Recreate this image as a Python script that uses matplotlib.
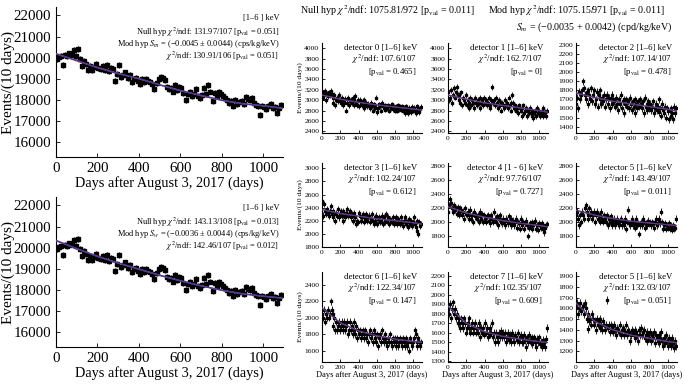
import numpy as np
import matplotlib
matplotlib.use("Agg")
import matplotlib.pyplot as plt

plt.rcParams['font.family'] = ['Liberation Serif', 'DejaVu Serif']
plt.rcParams['mathtext.fontset'] = 'stix'

# bin centres (10 day bins)
days = np.arange(5, 1090, 10)

# summed rate
total = [19950, 20050, 20100, 19650, 20150, 20100, 20200, 20150, 20350, 20100, 20400,
         19950, 19600, 19850, 19700, 19400, 19600, 19400, 19550, 19700, 19500,
         19450, 19600, 19400, 19650, 19350, 19500, 19450, 18900, 19250, 19650,
         19100, 19200, 19300, 19050, 19200, 18850, 19000, 19050, 18900, 18750,
         19000, 18850, 19000, 18900, 18850, 18750, 18500, 18800, 19000, 19100,
         19050, 18950, 18600, 18500, 18550, 18400, 18700, 18450, 18600, 18550,
         18350, 18000, 18300, 18400, 18200, 18300, 18500, 18200, 18100, 18250,
         18550, 18300, 18700, 18400, 17950, 18350, 18200, 18400, 18300, 18200,
         18100, 18000, 17850, 17950, 17700, 18000, 17800, 17900, 17950, 17800,
         18150, 18050, 18000, 18100, 17850, 17750, 17700, 17300, 17700, 17650,
         17550, 17700, 17800, 17600, 17650, 17400, 17600, 17750]

fit_days = [0, 100, 200, 300, 400, 500, 600, 700, 800, 900, 1000, 1090]
top_null = [20200, 19850, 19540, 19260, 19000, 18720, 18450, 18200, 17980, 17830, 17720, 17620]
top_mod = [20170, 19880, 19520, 19240, 19020, 18710, 18430, 18220, 17990, 17810, 17730, 17600]
bot_null = [20350, 19950, 19600, 19270, 18980, 18700, 18430, 18200, 17980, 17820, 17700, 17620]
bot_mod = [20330, 19960, 19580, 19280, 18990, 18690, 18440, 18190, 17990, 17810, 17710, 17610]

det = [
    [3150, 3050, 3100, 3180, 3000, 3120, 3080, 3150, 3100, 3180, 3120,
     3050, 2950, 3100, 2900, 3000, 3050, 2980, 3100, 3000, 2950,
     3050, 2900, 3000, 2950, 3020, 2800, 2950, 3050, 2900, 2980,
     3000, 2950, 3050, 2900, 3000, 3080, 2950, 2900, 3000, 2880,
     3000, 2950, 2900, 2980, 2850, 3000, 2900, 2950, 2880, 2930,
     2900, 2850, 2950, 2880, 2800, 2920, 2850, 2900, 3050, 2780,
     2850, 2920, 2880, 2800, 2950, 2880, 2850, 2900, 2820, 2880,
     2850, 2900, 2800, 2880, 2850, 2920, 2830, 2870, 2800, 2880,
     2850, 2800, 2900, 2830, 2870, 2820, 2880, 2800, 2850, 2760,
     2830, 2880, 2800, 2750, 2850, 2820, 2780, 2870, 2800, 2850,
     2820, 2760, 2880, 2800, 2850, 2780, 2830, 2870],
    [3150, 3000, 3050, 3200, 2950, 3100, 3230, 3050, 3150, 3250, 3100,
     3000, 3100, 2950, 3150, 2900, 3050, 3000, 2950, 3100, 2900,
     3000, 2850, 2950, 3050, 2900, 3000, 2950, 2850, 3050, 2950,
     2900, 3000, 2950, 3050, 2850, 2950, 3000, 2900, 3050, 2950,
     3000, 2900, 2950, 3050, 2900, 2850, 3000, 3250, 2950, 3000,
     2900, 3050, 2950, 2850, 3000, 2900, 2950, 2800, 2950, 2900,
     2850, 3000, 2900, 2950, 2850, 3050, 2900, 2800, 2950, 3100,
     2950, 2850, 2900, 2800, 2850, 2750, 2900, 2850, 2800, 2700,
     2850, 2900, 2750, 2800, 2850, 2700, 2800, 2750, 2850, 2750,
     2700, 2800, 2650, 2750, 2800, 2700, 2850, 2750, 2800, 2700,
     2750, 2800, 2700, 2850, 2750, 2780, 2700, 2800],
    [1650, 1720, 1600, 1780, 1700, 1750, 1800, 1900, 1820, 1750, 1700,
     1780, 1650, 1800, 1750, 1700, 1820, 1680, 1750, 1800, 1650,
     1700, 1780, 1620, 1750, 1700, 1800, 1650, 1720, 1680, 1750,
     1620, 1700, 1750, 1650, 1720, 1600, 1700, 1750, 1650, 1700,
     1680, 1620, 1720, 1650, 1580, 1700, 1650, 1750, 1600, 1680,
     1700, 1550, 1650, 1700, 1620, 1680, 1600, 1720, 1650, 1580,
     1680, 1620, 1550, 1700, 1650, 1600, 1680, 1620, 1700, 1650,
     1600, 1680, 1550, 1720, 1620, 1650, 1580, 1680, 1600, 1650,
     1580, 1620, 1680, 1550, 1600, 1650, 1580, 1620, 1700, 1560,
     1600, 1520, 1650, 1580, 1550, 1620, 1500, 1600, 1570, 1480,
     1580, 1520, 1600, 1550, 1480, 1620, 1550, 1600],
    [2500, 2280, 2450, 2350, 2300, 2380, 2320, 2280, 2350, 2420, 2300,
     2250, 2350, 2300, 2200, 2320, 2280, 2380, 2250, 2300, 2350,
     2280, 2200, 2350, 2300, 2250, 2320, 2380, 2280, 2300, 2350,
     2250, 2300, 2200, 2280, 2320, 2250, 2150, 2200, 2180, 2320,
     2280, 2200, 2250, 2300, 2180, 2250, 2220, 2300, 2200, 2250,
     2280, 2180, 2220, 2300, 2200, 2150, 2250, 2200, 2280, 2150,
     2220, 2250, 2180, 2200, 2280, 2150, 2250, 2200, 2180, 2300,
     2200, 2250, 2150, 2220, 2200, 2180, 2250, 2150, 2200, 2250,
     2180, 2150, 2220, 2200, 2150, 2250, 2180, 2120, 2200, 2250,
     2150, 2200, 2180, 2100, 2220, 2150, 2200, 2120, 2180, 2250,
     2150, 2100, 2200, 2050, 2000, 2180, 2120, 2150],
    [2150, 2250, 2330, 2280, 2200, 2150, 2250, 2180, 2200, 2120, 2220,
     2150, 2100, 2200, 2180, 2100, 2150, 2050, 2200, 2120, 2100,
     2150, 2050, 2100, 2180, 2050, 2100, 2000, 2150, 2080, 2100,
     2050, 2100, 2000, 2150, 2080, 2050, 2120, 2000, 2100, 2050,
     2000, 2080, 2100, 2020, 2050, 1980, 2100, 2050, 2000, 2150,
     2050, 2000, 2080, 1950, 2050, 2100, 2000, 2030, 1980, 2050,
     2000, 1950, 2050, 2020, 1980, 2080, 2000, 1950, 2050, 1980,
     2020, 1950, 2000, 2050, 1920, 2000, 1980, 1900, 2050, 1980,
     1950, 2000, 1900, 1980, 2020, 1950, 1800, 1920, 1980, 1950,
     2000, 1900, 1950, 1980, 2020, 1900, 1950, 1880, 1980, 1950,
     1920, 1980, 1900, 1950, 1850, 1920, 1960, 1970],
    [2100, 2150, 2050, 1950, 2100, 2000, 2150, 2100, 2050, 2200, 2250,
     2150, 2050, 2100, 2200, 2100, 2150, 2050, 2100, 2150, 2000,
     2100, 2150, 2050, 2100, 2000, 2080, 2150, 2050, 2000, 2100,
     2050, 2000, 2100, 1950, 2050, 2000, 2080, 1950, 2050, 2000,
     2050, 1950, 2000, 2050, 1980, 1950, 2020, 2050, 1950, 2000,
     1950, 2000, 2050, 1900, 2000, 2180, 1980, 1950, 2000, 2050,
     1950, 1980, 2000, 1920, 2050, 1950, 1980, 1830, 1950, 2000,
     1950, 2050, 2000, 1920, 1980, 2000, 1950, 2020, 1980, 2000,
     1950, 2000, 1980, 1920, 2000, 2050, 1950, 1980, 2020, 2050,
     1980, 2150, 2000, 1900, 1950, 1980, 1900, 1950, 1920, 1980,
     1900, 1950, 1920, 1880, 1950, 1900, 1920, 2050],
    [2050, 2000, 2100, 1950, 2050, 2000, 2100, 2000, 2050, 2200, 2100,
     2050, 1900, 2000, 1850, 1950, 1850, 1900, 1950, 1850, 1900,
     1950, 1850, 1900, 1950, 1850, 1900, 1950, 1800, 1850, 1950,
     1850, 1900, 1800, 1950, 1850, 1800, 1900, 1750, 1850, 1800,
     1850, 1750, 1800, 1850, 1750, 1800, 1850, 1750, 1800, 1700,
     1800, 1850, 1750, 1800, 1700, 1850, 1750, 1800, 1700, 1800,
     1650, 1750, 1800, 1700, 1850, 1750, 1700, 1800, 1750, 1700,
     1650, 1750, 1700, 1800, 1700, 1650, 1750, 1700, 1750, 1650,
     1700, 1750, 1650, 1700, 1750, 1700, 1650, 1750, 1700, 1650,
     1700, 1750, 1650, 1700, 1600, 1750, 1700, 1650, 1700, 1750,
     1850, 1800, 1700, 1650, 1750, 1700, 1650, 1700],
    [1850, 1800, 1900, 1750, 1850, 1920, 1800, 1850, 1750, 1800, 1700,
     1750, 1700, 1650, 1750, 1700, 1650, 1750, 1700, 1600, 1650,
     1700, 1650, 1750, 1600, 1650, 1700, 1600, 1650, 1700, 1600,
     1650, 1600, 1700, 1650, 1550, 1650, 1600, 1650, 1580, 1700,
     1600, 1650, 1550, 1600, 1650, 1580, 1600, 1700, 1550, 1600,
     1500, 1600, 1550, 1500, 1600, 1550, 1620, 1580, 1550, 1600,
     1550, 1600, 1500, 1550, 1600, 1520, 1580, 1550, 1500, 1600,
     1550, 1500, 1580, 1550, 1520, 1600, 1500, 1550, 1580, 1500,
     1550, 1500, 1580, 1520, 1450, 1550, 1500, 1580, 1520, 1500,
     1550, 1480, 1520, 1550, 1500, 1450, 1530, 1500, 1550, 1480,
     1500, 1450, 1520, 1480, 1500, 1450, 1530, 1650],
    [1600, 1650, 1550, 1600, 1650, 1580, 1600, 1620, 1550, 1650, 1600,
     1500, 1410, 1550, 1480, 1500, 1450, 1550, 1500, 1450, 1480,
     1400, 1500, 1450, 1480, 1420, 1500, 1450, 1400, 1480, 1450,
     1400, 1450, 1680, 1420, 1450, 1380, 1450, 1400, 1430, 1380,
     1450, 1400, 1350, 1420, 1400, 1380, 1450, 1350, 1400, 1420,
     1350, 1400, 1380, 1450, 1350, 1400, 1380, 1300, 1350, 1400,
     1380, 1350, 1400, 1320, 1380, 1350, 1300, 1400, 1350, 1420,
     1350, 1380, 1400, 1320, 1350, 1380, 1300, 1350, 1320, 1380,
     1300, 1350, 1320, 1380, 1280, 1350, 1320, 1300, 1280, 1350,
     1320, 1380, 1300, 1250, 1320, 1280, 1350, 1300, 1250, 1320,
     1280, 1300, 1250, 1320, 1280, 1230, 1300, 1250],
]
det_err = [55, 55, 40, 47, 45, 45, 43, 40, 37]
det_fit = [
    [3100, 3020, 2960, 2910, 2870, 2830, 2810],
    [3100, 3020, 2950, 2900, 2850, 2800, 2770],
    [1770, 1720, 1680, 1650, 1620, 1590, 1570],
    [2370, 2310, 2270, 2230, 2200, 2170, 2150],
    [2220, 2130, 2070, 2020, 1980, 1950, 1930],
    [2170, 2100, 2050, 2010, 1985, 1960, 1950],
    [2120, 1940, 1840, 1780, 1740, 1710, 1700],
    [1880, 1700, 1610, 1560, 1530, 1505, 1495],
    [1650, 1480, 1400, 1350, 1320, 1290, 1280],
]
det_fit_days = [0, 200, 400, 600, 800, 1000, 1090]
det_names = ["detector 0 [1\u20136] keV", "detector 1 [1\u20136] keV", "detector 2 [1\u20136] keV",
             "detector 3 [1\u20136] keV", "detector 4 [1 - 6] keV", "detector 5 [1\u20136] keV",
             "detector 6 [1\u20136] keV", "detector 7 [1\u20136] keV", "detector 5 [1\u20136] keV"]
det_chi = ["107.6/107", "162.7/107", "107.14/107", "102.24/107", "97.76/107",
           "143.49/107", "122.34/107", "102.35/107", "132.03/107"]
det_p = ["0.465", "0", "0.478", "0.612", "0.727", "0.011", "0.147", "0.609", "0.051"]
det_ylim = [(2370, 4100), (2370, 4100), (1330, 2320), (1800, 3080), (1640, 2850),
            (1640, 2850), (1460, 2560), (1290, 2240), (1100, 1940)]
det_yticks = [np.arange(2400, 4001, 200), np.arange(2400, 4001, 200), np.arange(1400, 2301, 100),
              np.arange(1800, 3001, 200), np.arange(1800, 2801, 200), np.arange(1800, 2801, 200),
              np.arange(1600, 2401, 200), np.arange(1300, 2201, 100), np.arange(1200, 1901, 100)]

W, H = 685, 386
fig = plt.figure(figsize=(6.85, 3.86), dpi=100)


def box(l, t, r, b):
    return [l / W, 1 - b / H, (r - l) / W, (b - t) / H]


def style(ax, fs):
    ax.spines['top'].set_visible(False)
    ax.spines['right'].set_visible(False)
    ax.tick_params(direction='in', labelsize=fs, length=3, width=0.6)
    for s in ax.spines.values():
        s.set_linewidth(0.8)


red = "#d0323c"
blue = "#3a3fa8"

# big panels
big = [(7, 157, top_null, top_mod,
        ["[1\u20136 ] keV",
         "Null hyp $\\chi^2$/ndf: 131.97/107 [p$_{\\rm val}$ = 0.051]",
         "Mod hyp $S_m$ = (\u22120.0045 \u00b1 0.0044) (cps/kg/keV)",
         "$\\chi^2$/ndf: 130.91/106 [p$_{\\rm val}$ = 0.051]"]),
       (197, 347, bot_null, bot_mod,
        ["[1\u20136 ] keV",
         "Null hyp $\\chi^2$/ndf: 143.13/108 [p$_{\\rm val}$ = 0.013]",
         "Mod hyp $S_w$ = (\u22120.0036 \u00b1 0.0044) (cps/kg/keV)",
         "$\\chi^2$/ndf: 142.46/107 [p$_{\\rm val}$ = 0.012]"])]
for t, b, fnull, fmod, lines in big:
    ax = fig.add_axes(box(56, t, 283, b))
    ax.errorbar(days, total, yerr=140, xerr=5, fmt='s', ms=3.2, color='black',
                ecolor='black', elinewidth=0.9, capsize=0, zorder=2)
    ax.plot(fit_days, fnull, color=red, lw=1.0, zorder=3)
    ax.plot(fit_days, fmod, color=blue, lw=1.0, zorder=3)
    ax.set_xlim(0, 1095)
    ax.set_ylim(15300, 22400)
    ax.set_yticks(np.arange(16000, 22001, 1000))
    ax.set_xticks(np.arange(0, 1001, 200))
    style(ax, 10.8)
    ax.set_ylabel("Events/(10 days)", fontsize=11)
    ax.yaxis.set_label_coords(-0.18, 0.5)
    ax.set_xlabel("Days after August 3, 2017 (days)", fontsize=10.3, labelpad=1)
    for i, s in enumerate(lines):
        ax.text(0.985, 0.955 - i * 0.08, s, transform=ax.transAxes, ha='right',
                va='top', fontsize=6.0)

# detector panels
cols = [(322, 422), (448, 548), (576, 677)]
rows = [(43, 133), (163, 247), (272, 362)]
for k in range(9):
    r, c = divmod(k, 3)
    ax = fig.add_axes(box(cols[c][0], rows[r][0], cols[c][1], rows[r][1]))
    ax.errorbar(days, det[k], yerr=det_err[k], xerr=5, fmt='s', ms=1.8, color='black',
                ecolor='black', elinewidth=0.6, capsize=0, zorder=2)
    ax.plot(det_fit_days, det_fit[k], color=red, lw=0.8, zorder=3)
    ax.plot(det_fit_days, det_fit[k], color=blue, lw=0.8, zorder=3, alpha=0.9)
    ax.set_xlim(0, 1095)
    ax.set_ylim(*det_ylim[k])
    ax.set_yticks(det_yticks[k])
    ax.set_xticks(np.arange(0, 1001, 200))
    style(ax, 5.4)
    ax.tick_params(length=2, pad=2)
    txt = det_names[k] + "\n$\\chi^2$/ndf: " + det_chi[k] + "\n[p$_{\\rm val}$ = " + det_p[k] + "]"
    ax.text(0.95, 0.99, txt, transform=ax.transAxes, ha='right', va='top',
            fontsize=6.3, multialignment='right', linespacing=1.05)
    if c == 0:
        ax.set_ylabel("Events/(10 days)", fontsize=5.4, labelpad=1)
    if r == 2:
        ax.set_xlabel("Days after August 3, 2017 (days)", fontsize=6.0, labelpad=1)

fig.text(300 / W, 1 - 11 / H, "Null hyp $\\chi^2$/ndf: 1075.81/972 [p$_{\\rm val}$ = 0.011]",
         fontsize=7.2, ha='left', va='center')
fig.text(488 / W, 1 - 11 / H, "Mod hyp $\\chi^2$/ndf: 1075.15/971 [p$_{\\rm val}$ = 0.011]",
         fontsize=7.2, ha='left', va='center')
fig.text(672 / W, 1 - 27 / H, "$S_m$ = (\u22120.0035 + 0.0042) (cpd/kg/keV)",
         fontsize=7.2, ha='right', va='center')

fig.savefig("out.png", dpi=100)
